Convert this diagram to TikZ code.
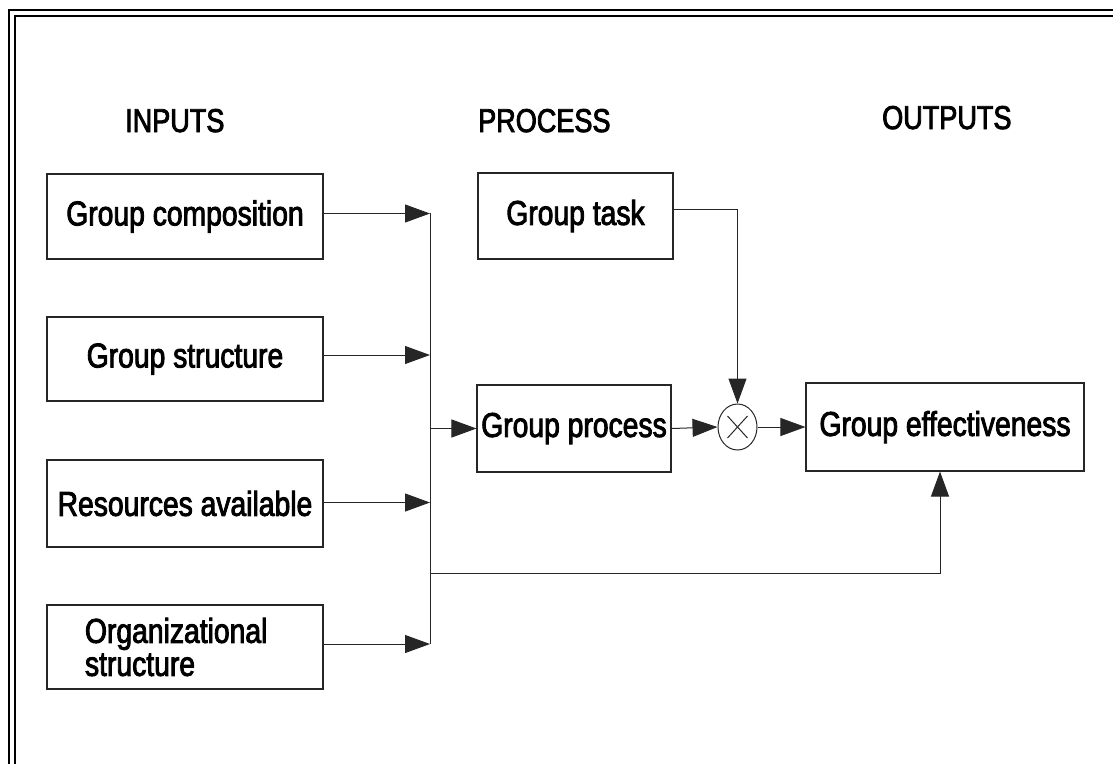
\documentclass[tikz,border=0pt]{standalone}
\usepackage{fontspec}
\newfontfamily\diagfont{Liberation Sans}[FakeStretch=0.82,FakeBold=2.5]
\usetikzlibrary{arrows.meta,shapes.geometric}
\newcommand\boxfont{\diagfont\fontsize{34.5}{33}\selectfont}
\newcommand\headfont{\diagfont\fontsize{33}{33}\selectfont}

\begin{document}
\begin{tikzpicture}[x=1pt,y=-1pt,
  box/.style={draw=black!85, line width=1.1pt, inner sep=0pt, font=\boxfont, align=center},
  head/.style={anchor=base west, inner sep=0pt, font=\headfont},
  conn/.style={draw=black!85, line width=1pt},
  arr/.style={conn, -{Triangle[length=25pt,width=18pt]}}
]
\useasboundingbox (0,0) rectangle (1113,764);

% double frame along the top and left edges
\draw[line width=1.4pt] (9,764) -- (9,10) -- (1113,10);
\draw[line width=2pt] (15,764) -- (15,16) -- (1113,16);

% column headings
\node[head] (hin)  at (125,132) {INPUTS};
\node[head] (hpr)  at (478,132) {PROCESS};
\node[head] (hout) at (882,129) {OUTPUTS};

% inputs
\node[box, minimum width=276pt, minimum height=85pt] (comp)   at (185,216.5) {Group composition};
\node[box, minimum width=276pt, minimum height=84pt] (struct) at (185,359)   {Group structure};
\node[box, minimum width=276pt, minimum height=87pt] (res)    at (185,503.5) {Resources available};
\node[box, text width=200pt, inner xsep=38pt, minimum height=84pt, align=left] (org) at (185,647)
  {Organizational\\structure};

% process and output
\node[box, minimum width=195pt, minimum height=86pt] (task) at (575.5,216) {Group task};
\node[box, minimum width=194pt, minimum height=87pt] (proc) at (574,428.5) {Group process};
\node[box, minimum width=278pt, minimum height=88pt] (eff)  at (945,427)   {Group effectiveness};
\node[ellipse, draw=black!85, line width=1pt, minimum width=39pt, minimum height=46pt, inner sep=0pt] (mult) at (737.5,427) {};
\draw[conn] ([shift={(-10,-11)}]mult.center) -- ([shift={(10,11)}]mult.center);
\draw[conn] ([shift={(-10,11)}]mult.center) -- ([shift={(10,-11)}]mult.center);

% collecting line for the inputs
\coordinate (bt) at (430,213);
\coordinate (bb) at (430,644);
\coordinate (fb) at (430,573);
\coordinate (fe) at (940,573);
\draw[conn] (bt) -- (bb);

\draw[arr] ([yshift=3pt]comp.east)   -- ([yshift=3pt]comp.east -| bt);
\draw[arr] ([yshift=4pt]struct.east) -- ([yshift=4pt]struct.east -| bt);
\draw[arr] ([yshift=1pt]res.east)    -- ([yshift=1pt]res.east -| bt);
\draw[arr] ([yshift=3pt]org.east)    -- ([yshift=3pt]org.east -| bt);

\draw[arr] (proc.west -| bt) -- (proc.west);
\draw[arr] ([yshift=7pt]task.east) -- ([yshift=7pt]task.east -| mult.north) -- (mult.north);
\draw[arr] (proc.east) -- (mult.west);
\draw[arr] (mult.east) -- (eff.west);
\draw[arr] (fb) -- (fe) -- (fe |- eff.south);
\end{tikzpicture}
\end{document}
